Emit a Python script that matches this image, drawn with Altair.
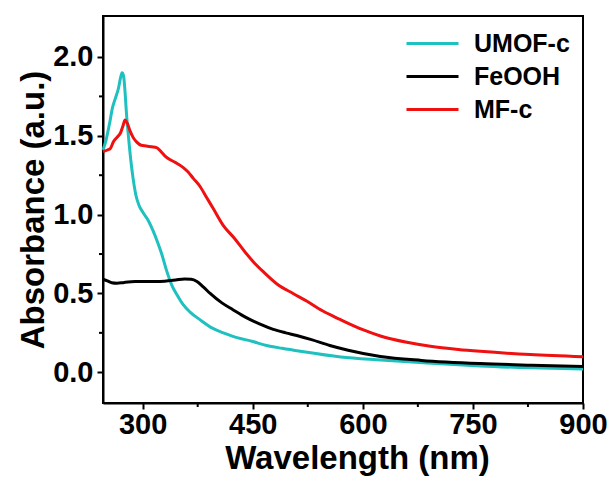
import altair as alt
import pandas as pd

# ---- data ----
umof_wl = [246, 250, 255, 259, 263, 267, 270, 272, 274, 276, 278, 281, 284, 287, 291, 295, 301, 308, 314, 320,
           326, 333, 340, 347, 355, 365, 378, 395, 410, 423, 450, 469, 490, 515, 570, 625, 700, 760, 830, 900]
umof_abs = [1.41, 1.47, 1.58, 1.68, 1.74, 1.80, 1.87, 1.90, 1.88, 1.78, 1.64, 1.48, 1.34, 1.23, 1.12, 1.06, 1.01, 0.96, 0.90, 0.83,
            0.75, 0.64, 0.55, 0.49, 0.43, 0.38, 0.334, 0.28, 0.25, 0.228, 0.195, 0.170, 0.152, 0.133, 0.097, 0.078, 0.056, 0.040, 0.028, 0.020]

feooh_wl = [246, 252, 258, 265, 275, 290, 310, 330, 345, 357, 366, 374, 383, 392, 408, 423, 440, 460, 478, 495,
            510, 530, 555, 580, 624, 680, 760, 830, 900]
feooh_abs = [0.59, 0.58, 0.568, 0.565, 0.57, 0.575, 0.576, 0.578, 0.585, 0.592, 0.59, 0.576, 0.54, 0.50, 0.44, 0.397, 0.350, 0.305, 0.272, 0.25,
             0.233, 0.207, 0.17, 0.14, 0.10, 0.075, 0.055, 0.045, 0.037]

mfc_wl = [246, 252, 256, 260, 265, 270, 273, 276, 279, 283, 287, 292, 298, 305, 312, 319, 325, 331, 337, 345,
          355, 362, 369, 378, 387, 396, 410, 425, 440, 451, 465, 483, 505, 524, 545, 569, 600, 624, 660, 692,
          730, 760, 828, 900]
mfc_abs = [1.40, 1.41, 1.42, 1.46, 1.49, 1.52, 1.56, 1.60, 1.58, 1.53, 1.49, 1.46, 1.44, 1.435, 1.43, 1.425, 1.40, 1.37, 1.35, 1.33,
           1.30, 1.27, 1.23, 1.18, 1.11, 1.04, 0.93, 0.85, 0.76, 0.70, 0.635, 0.56, 0.50, 0.45, 0.39, 0.335, 0.27, 0.23, 0.19, 0.165,
           0.145, 0.133, 0.112, 0.098]

series_names = ["UMOF-c", "FeOOH", "MF-c"]
series_colors = ["#1EC0C0", "#000000", "#F01010"]

x_ticks = [300, 450, 600, 750, 900]
x_minor = [375, 525, 675, 825]
y_ticks = [0.0, 0.5, 1.0, 1.5, 2.0]
y_minor = [0.25, 0.75, 1.25, 1.75]

rows = []
for name, wl, ab in [("UMOF-c", umof_wl, umof_abs), ("FeOOH", feooh_wl, feooh_abs), ("MF-c", mfc_wl, mfc_abs)]:
    for w, a in zip(wl, ab):
        rows.append({"series": name, "wavelength": w, "absorbance": a})
df = pd.DataFrame(rows)

FONT = "Liberation Sans"
xscale = alt.Scale(domain=[246, 900], nice=False, zero=False)
yscale = alt.Scale(domain=[-0.195, 2.26], nice=False, zero=False)

lines = alt.Chart(df).mark_line(strokeWidth=3, interpolate="monotone").encode(
    x=alt.X("wavelength:Q", scale=xscale,
            axis=alt.Axis(values=x_ticks, title="Wavelength (nm)", grid=False,
                          tickSize=6, tickWidth=2, tickColor="black",
                          domainColor="black", domainWidth=2,
                          labelFont=FONT, labelFontSize=29, labelFontWeight="bold", labelColor="black",
                          labelPadding=1, labelFlush=False, labelOverlap=False,
                          titleFont=FONT, titleFontSize=33, titleFontWeight="bold", titleColor="black",
                          titlePadding=3, titleX=254, titleAlign="center")),
    y=alt.Y("absorbance:Q", scale=yscale,
            axis=alt.Axis(values=y_ticks, format=".1f", title="Absorbance (a.u.)", grid=False,
                          tickSize=6, tickWidth=2, tickColor="black",
                          domainColor="black", domainWidth=2,
                          labelFont=FONT, labelFontSize=29, labelFontWeight="bold", labelColor="black",
                          labelPadding=4, labelFlush=False, labelOverlap=False,
                          titleFont=FONT, titleFontSize=33, titleFontWeight="bold", titleColor="black",
                          titlePadding=2)),
    color=alt.Color("series:N", scale=alt.Scale(domain=series_names, range=series_colors),
                    sort=series_names,
                    legend=alt.Legend(title=None, orient="none", legendX=317, legendY=15,
                                      symbolType="M-4,0H4", symbolSize=169, symbolStrokeWidth=3,
                                      labelFont=FONT, labelFontSize=25, labelFontWeight="bold",
                                      labelColor="black", labelOffset=29, rowPadding=7, padding=0)),
    order=alt.Order("wavelength:Q"),
)

xminor = alt.Chart(pd.DataFrame({"v": x_minor})).mark_rule(color="black", strokeWidth=2).encode(
    x=alt.X("v:Q", scale=xscale, axis=None),
    y=alt.value(387), y2=alt.value(391),
)
yminor = alt.Chart(pd.DataFrame({"v": y_minor})).mark_rule(color="black", strokeWidth=2).encode(
    y=alt.Y("v:Q", scale=yscale, axis=None),
    x=alt.value(0), x2=alt.value(-4),
)

chart = alt.layer(lines, xminor, yminor).resolve_axis(
    x="independent", y="independent"
).properties(
    width=480, height=387,
    autosize=alt.AutoSizeParams(type="none"),
    padding={"left": 103, "top": 16, "right": 32, "bottom": 79},
    background="white",
).configure_view(stroke="black", strokeWidth=2)

chart.save("out.html", embed_options={"renderer": "svg", "actions": False})
